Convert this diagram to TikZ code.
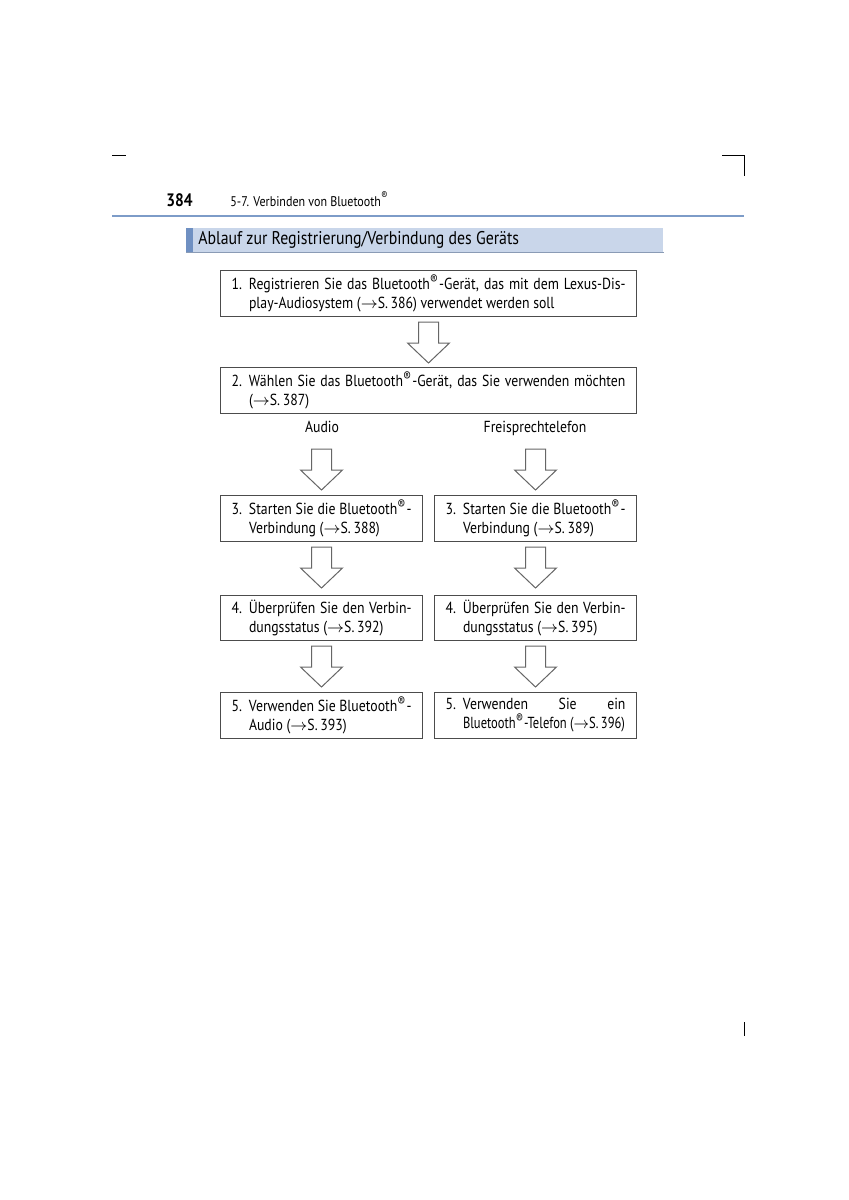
\documentclass[tikz,border=0pt]{standalone}
\usepackage{graphicx}
\usepackage{fontspec}
\setmainfont[FakeStretch=0.86]{PT Sans}
\usetikzlibrary{calc}

\definecolor{rulecol}{HTML}{7D9CC8}
\definecolor{barfill}{HTML}{C9D6EA}
\definecolor{barstripe}{HTML}{6F90C2}
\definecolor{barline}{HTML}{8A9BB5}

\newlength{\numw}
\setlength{\numw}{8.75pt}
\newcommand{\bt}{Bluetooth\textsuperscript{\fontsize{6.8}{6.8}\selectfont ®}}
\newcommand{\pg}[1]{($\rightarrow$S.\,#1)}
\newcommand{\itm}[2]{\leavevmode\hangindent=\numw\hangafter=1\makebox[\numw][l]{#1}#2\par}

\tikzset{
  stepbox/.style={draw=black!70, line width=0.5pt, anchor=north west,
    inner xsep=5.5pt, inner ysep=2pt, align=justify, minimum height=23pt,
    font=\fontsize{8}{9.5}\selectfont},
  widebox/.style={stepbox, text width=197pt},
  halfbox/.style={stepbox, text width=90pt},
  flowarrow/.pic={
    \draw[black!60, line width=0.5pt, fill=white, line join=miter]
      (-10,0) -- (10,0) -- (10,21) -- (21,21) -- (0,41) -- (-21,21) -- (-10,21) -- cycle;
  }
}

\begin{document}
\begin{tikzpicture}[x=0.5pt, y=-0.5pt]
        \useasboundingbox (0,0) rectangle (848,1200);
        % crop marks
        \draw[line width=0.4pt] (112,155) -- (126,155);
        \draw[line width=0.4pt] (722,155) -- (744,155) -- (744,176);
        \draw[line width=0.4pt] (744,1022) -- (744,1036);
        % header
        \node[anchor=base west, inner sep=0, font=\fontsize{9}{9}\selectfont\bfseries] (pnum) at (166,206) {384};
        \node[anchor=base west, inner sep=0, font=\fontsize{7}{7}\selectfont] (hdr) at (230,206) {5-7. Verbinden von Bluetooth\textsuperscript{\fontsize{5.5}{5.5}\selectfont ®}};
        \draw[rulecol, line width=1pt] (112,216) -- (744,216);
        % title bar
        \node[anchor=north west, fill=barfill, minimum width=238.5pt, minimum height=12pt, inner sep=0] (bar) at (186,228) {};
        \fill[barstripe] (bar.north west) rectangle ($(bar.south west)+(7,0)$);
        \draw[barline, line width=0.6pt] (bar.south west) -- (bar.south east);
        \node[anchor=west, inner sep=0, font=\fontsize{9.2}{9.2}\selectfont] (title) at (198,240) {Ablauf zur Registrierung/Verbindung des Geräts};
        % steps
        \node[widebox] (b1) at (220,270) {\itm{1.}{Registrieren Sie das \bt-Gerät, das mit dem Lexus-Dis-\linebreak play-Audiosystem \pg{386} verwendet werden soll}};
        \node[widebox, minimum height=22.5pt] (b2) at (220,367) {\itm{2.}{Wählen Sie das \bt-Gerät, das Sie verwenden möchten\linebreak \pg{387}}};
        \node[font=\fontsize{8}{9.5}\selectfont, inner sep=0] (audio) at (322,427) {Audio};
        \node[font=\fontsize{8}{9.5}\selectfont, inner sep=0] (phone) at (535,428) {Freisprechtelefon};
        \node[halfbox] (b3l) at (220,495) {\itm{3.}{Starten Sie die \bt-\linebreak Verbindung \pg{388}}};
        \node[halfbox] (b3r) at (434,495) {\itm{3.}{Starten Sie die \bt-\linebreak Verbindung \pg{389}}};
        \node[halfbox, minimum height=22.5pt] (b4l) at (220,595) {\itm{4.}{Überprüfen Sie den Verbin-\linebreak dungsstatus \pg{392}}};
        \node[halfbox, minimum height=22.5pt] (b4r) at (434,595) {\itm{4.}{Überprüfen Sie den Verbin-\linebreak dungsstatus \pg{395}}};
        \node[halfbox] (b5l) at (220,692) {\itm{5.}{Verwenden Sie \bt-\linebreak Audio \pg{393}}};
        \node[halfbox] (b5r) at (434,692) {\itm{5.}{Verwenden Sie ein\linebreak \resizebox{81pt}{\height}{\bt-Telefon \pg{396}}}};
        % arrows
        \pic at ($(b1.south)+(0,5)$) {flowarrow};
        \pic at ($(b3l.north)+(0,-46)$) {flowarrow};
        \pic at ($(b3r.north)+(0,-46)$) {flowarrow};
        \pic at ($(b3l.south)+(0,5)$) {flowarrow};
        \pic at ($(b3r.south)+(0,5)$) {flowarrow};
        \pic at ($(b4l.south)+(0,5)$) {flowarrow};
        \pic at ($(b4r.south)+(0,5)$) {flowarrow};
      \end{tikzpicture}
\end{document}
